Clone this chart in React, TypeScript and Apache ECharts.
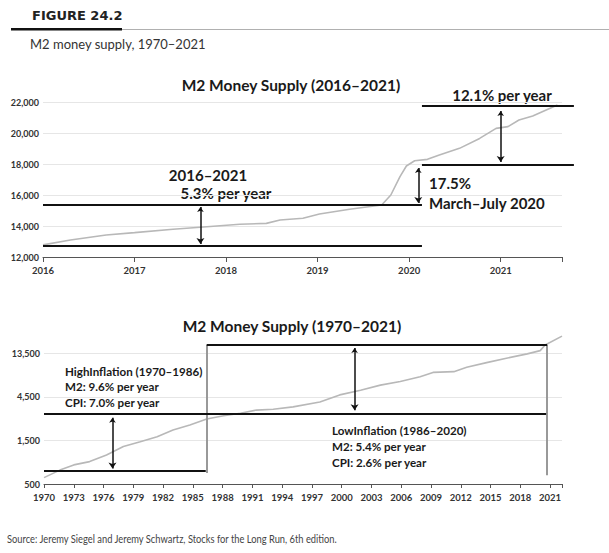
import React, { useEffect, useRef } from 'react';
import * as echarts from 'echarts';

// ---------- Top panel: M2 2016–2021 (billions $) ----------
const topYears = [2016.0, 2016.3, 2016.69, 2017.0, 2017.42, 2017.79, 2018.15, 2018.44, 2018.59, 2018.84, 2019.02, 2019.35, 2019.7, 2019.8, 2019.9, 2019.97, 2020.06, 2020.2, 2020.33, 2020.55, 2020.77, 2020.95, 2021.08, 2021.2, 2021.35, 2021.62];
const topM2 = [12780, 13100, 13420, 13570, 13790, 13950, 14110, 14170, 14390, 14500, 14770, 15080, 15350, 16000, 17180, 17870, 18210, 18300, 18580, 19010, 19650, 20300, 20410, 20840, 21100, 21810];
// reference bars: [fromYear, toYear, level]
const topBars = [
  [2016, 2020.14, 12700],
  [2016, 2020.14, 15355],
  [2020.14, 2021.8, 17955],
  [2020.14, 2021.8, 21740],
];
// arrows: [year, fromLevel, toLevel]
const topArrows = [
  [2017.72, 15230, 12840],
  [2020.1, 17740, 15480],
  [2021.0, 21420, 18130],
];

// ---------- Bottom panel: M2 1970–2021 (log scale, base 3) ----------
const botYears = [1970, 1971.6, 1973, 1974.6, 1976.3, 1978, 1979.7, 1981.4, 1983, 1984.7, 1986.4, 1988.1, 1989.8, 1991.4, 1993.1, 1995.1, 1997.8, 1999.8, 2001.9, 2003.9, 2005.9, 2007.9, 2009.2, 2011.3, 2012.6, 2014.6, 2016.6, 2018.7, 2020.0, 2020.5, 2022.2];
const botM2 = [587, 710, 810, 880, 1040, 1290, 1450, 1650, 1950, 2220, 2580, 2800, 2980, 3230, 3300, 3500, 3960, 4740, 5340, 6060, 6640, 7500, 8360, 8520, 9500, 10700, 11950, 13350, 14480, 16700, 20900];
const botYTickLabels = [500, 1500, 4500, 13500];
const botBars = [
  [1970, 1986.3, 695],
  [1970, 2020.6, 2980],
  [1986.4, 2020.7, 16770],
];
// vertical separators: [year, topLevel, bottomLevel]
const botVerticals = [
  [1986.4, 16770, 660],
  [2020.7, 16770, 625],
];
const botArrows = [
  [1976.9, 2660, 740],
  [2001.3, 15450, 3225],
];

const LOG_BASE_VALUE = 500;
const lg = (v: number) => Math.log(v / LOG_BASE_VALUE) / Math.log(3);

const FONT = 'Lato, "Open Sans", sans-serif';
const near = (a: number, b: number) => Math.abs(a - b) < 1e-6;

function buildOption() {
  const axisLabelBase = { color: '#333', fontWeight: 'bold', fontSize: 9.5, fontFamily: FONT };
  const barLine = { color: '#111', width: 2, opacity: 1 };
  const arrowLine = { color: '#111', width: 1.5, opacity: 1 };

  const txt = (text: string, x: number, y: number, size: number, align = 'center', weight = 'bold', color = '#222', family = FONT, scaleX = 1) => ({
    type: 'text',
    x,
    y,
    scaleX,
    silent: true,
    style: {
      text,
      fill: color,
      font: `${weight} ${size}px ${family}`,
      textAlign: align,
      textVerticalAlign: 'middle',
      align,
      verticalAlign: 'middle',
    },
  });

  return {
    animation: false,
    backgroundColor: '#ffffff',
    grid: [
      { left: 43, right: 47, top: 102, height: 155 },
      { left: 44, right: 47, top: 336, height: 148 },
    ],
    xAxis: [
      {
        type: 'value', gridIndex: 0, min: 2016, max: 2021.67, interval: 1,
        axisLine: { lineStyle: { color: '#555', width: 1 } },
        axisTick: { length: 5, lineStyle: { color: '#555' } },
        splitLine: { show: false },
        axisLabel: { ...axisLabelBase, margin: 8, formatter: (v: number) => (near(v, Math.round(v)) ? String(Math.round(v)) : '') },
      },
      {
        type: 'value', gridIndex: 1, min: 1970, max: 2022.2, interval: 3,
        axisLine: { lineStyle: { color: '#555', width: 1 } },
        axisTick: { length: 4, lineStyle: { color: '#555' } },
        splitLine: { show: false },
        axisLabel: {
          ...axisLabelBase, margin: 8,
          formatter: (v: number) => {
            const k = (v - 1970) / 3;
            return near(k, Math.round(k)) ? String(Math.round(v)) : '';
          },
        },
      },
    ],
    yAxis: [
      {
        type: 'value', gridIndex: 0, min: 12000, max: 22000, interval: 2000,
        axisLine: { show: false }, axisTick: { show: false },
        splitLine: { lineStyle: { color: '#e6e6e6', width: 1 } },
        axisLabel: { ...axisLabelBase, fontSize: 9, margin: 4, formatter: (v: number) => v.toLocaleString('en-US') },
      },
      {
        type: 'value', gridIndex: 1, min: 0, max: 3.4, interval: 1,
        axisLine: { show: false }, axisTick: { show: false },
        splitLine: { showMaxLine: false, lineStyle: { color: '#e6e6e6', width: 1 } },
        axisLabel: {
          ...axisLabelBase, fontSize: 9, margin: 4,
          formatter: (v: number) => {
            const k = Math.round(v);
            return near(v, k) && botYTickLabels[k] !== undefined ? botYTickLabels[k].toLocaleString('en-US') : '';
          },
        },
      },
    ],
    series: [
      {
        type: 'line', xAxisIndex: 0, yAxisIndex: 0, showSymbol: false, z: 2,
        lineStyle: { color: '#b8b8b8', width: 1.6 },
        data: topYears.map((x, i) => [x, topM2[i]]),
      },
      {
        type: 'line', xAxisIndex: 1, yAxisIndex: 1, showSymbol: false, z: 2, clip: false,
        lineStyle: { color: '#b8b8b8', width: 1.6 },
        data: botYears.map((x, i) => [x, lg(botM2[i])]),
      },
      {
        type: 'lines', coordinateSystem: 'cartesian2d', xAxisIndex: 0, yAxisIndex: 0, clip: false, z: 4,
        symbol: 'none', lineStyle: barLine,
        data: topBars.map(([a, b, l]) => ({ coords: [[a, l], [b, l]] })),
      },
      {
        type: 'lines', coordinateSystem: 'cartesian2d', xAxisIndex: 0, yAxisIndex: 0, clip: false, z: 4,
        symbol: ['arrow', 'arrow'], symbolSize: [5, 6], lineStyle: arrowLine,
        data: topArrows.map(([x, a, b]) => ({ coords: [[x, a], [x, b]] })),
      },
      {
        type: 'lines', coordinateSystem: 'cartesian2d', xAxisIndex: 1, yAxisIndex: 1, clip: false, z: 3,
        symbol: 'none', lineStyle: { color: '#999', width: 2, opacity: 1 },
        data: botVerticals.map(([x, a, b]) => ({ coords: [[x, lg(a)], [x, lg(b)]] })),
      },
      {
        type: 'lines', coordinateSystem: 'cartesian2d', xAxisIndex: 1, yAxisIndex: 1, clip: false, z: 4,
        symbol: 'none', lineStyle: barLine,
        data: botBars.map(([a, b, l]) => ({ coords: [[a, lg(l)], [b, lg(l)]] })),
      },
      {
        type: 'lines', coordinateSystem: 'cartesian2d', xAxisIndex: 1, yAxisIndex: 1, clip: false, z: 4,
        symbol: ['arrow', 'arrow'], symbolSize: [5, 6], lineStyle: arrowLine,
        data: botArrows.map(([x, a, b]) => ({ coords: [[x, lg(a)], [x, lg(b)]] })),
      },
    ],
    graphic: [
      // header
      txt('FIGURE 24.2', 32, 15, 13, 'left', 'bold', '#222', '"DejaVu Sans"'),
      { type: 'rect', silent: true, shape: { x: 11, y: 28, width: 111, height: 2.5 }, style: { fill: '#111' } },
      { type: 'rect', silent: true, shape: { x: 122, y: 29, width: 487, height: 1 }, style: { fill: '#b0b0b0' } },
      txt('M2 money supply, 1970–2021', 30, 44, 13, 'left', 'normal', '#333'),
      // titles
      txt('M2 Money Supply (2016–2021)', 291, 85, 15.5, 'center', 'bold', '#1a1a1a'),
      txt('M2 Money Supply (1970–2021)', 292, 326, 15.5, 'center', 'bold', '#1a1a1a'),
      // top annotations
      txt('2016–2021', 208, 175, 15, 'center', 'bold', '#1a1a1a'),
      txt('5.3% per year', 226, 193, 15, 'center', 'bold', '#1a1a1a'),
      txt('17.5%', 429, 183, 15, 'left', 'bold', '#1a1a1a'),
      txt('March–July 2020', 429, 203, 15, 'left', 'bold', '#1a1a1a'),
      txt('12.1% per year', 502, 95, 15, 'center', 'bold', '#1a1a1a'),
      // bottom annotations
      txt('HighInflation (1970–1986)', 65, 371, 11.6, 'left', 'bold', '#1a1a1a'),
      txt('M2: 9.6% per year', 65, 386, 11.6, 'left', 'bold', '#1a1a1a'),
      txt('CPI: 7.0% per year', 65, 402, 11.6, 'left', 'bold', '#1a1a1a'),
      txt('LowInflation (1986–2020)', 332, 430, 11.6, 'left', 'bold', '#1a1a1a'),
      txt('M2: 5.4% per year', 332, 446, 11.6, 'left', 'bold', '#1a1a1a'),
      txt('CPI: 2.6% per year', 332, 462, 11.6, 'left', 'bold', '#1a1a1a'),
      // source
      txt('Source: Jeremy Siegel and Jeremy Schwartz, Stocks for the Long Run, 6th edition.', 7, 539, 10.5, 'left', 'normal', '#444', FONT, 0.89),
    ],
  };
}

export default function App() {
  const ref = useRef<HTMLDivElement>(null);
  useEffect(() => {
    if (!ref.current) return;
    const chart = echarts.init(ref.current, undefined, { renderer: 'svg' });
    chart.setOption(buildOption() as any);
    return () => chart.dispose();
  }, []);
  return (
    <div
      ref={ref}
      style={{ position: 'absolute', left: 0, top: 0, width: 609, height: 553, background: '#fff' }}
    />
  );
}
